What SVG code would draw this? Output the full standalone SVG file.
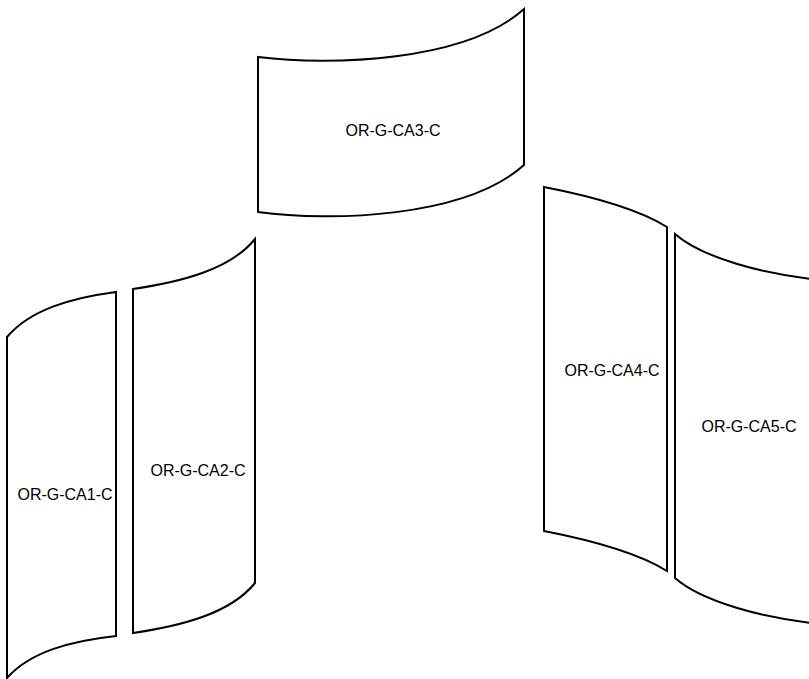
<svg xmlns="http://www.w3.org/2000/svg" width="809" height="679" viewBox="0 0 809 679">
  <style>
    .shape { fill: #ffffff; stroke: #000000; stroke-width: 2; stroke-linejoin: miter; }
    .label { font-family: "Liberation Sans", Arial, sans-serif; font-size: 16px; fill: #000000; text-anchor: middle; }
  </style>
  <rect x="0" y="0" width="809" height="679" fill="#ffffff"/>
  <g id="connectors"></g>
  <g id="node-ca3">
    <path class="shape" d="M258,57 C330,66 465,62 524,9 L524,165 C465,218 330,222 258,212 Z"/>
    <text class="label" x="393" y="136">OR-G-CA3-C</text>
  </g>
  <g id="node-ca1">
    <path class="shape" d="M7,337 C30,310 70,298 116,292 L116,636 C70,641 30,652 7,678 Z"/>
    <text class="label" x="65" y="500">OR-G-CA1-C</text>
  </g>
  <g id="node-ca2">
    <path class="shape" d="M133,289 C180,282 230,270 255,239 L255,583 C230,614 180,626 133,633 Z"/>
    <text class="label" x="198" y="476">OR-G-CA2-C</text>
  </g>
  <g id="node-ca4">
    <path class="shape" d="M544,187 C580,194 635,207 667,227 L667,571 C635,551 580,538 544,531 Z"/>
    <text class="label" x="612" y="376">OR-G-CA4-C</text>
  </g>
  <g id="node-ca5">
    <path class="shape" d="M675,234 C700,256 760,275 830,281 L830,625 C760,619 700,600 675,578 Z"/>
    <text class="label" x="749" y="432">OR-G-CA5-C</text>
  </g>
</svg>
